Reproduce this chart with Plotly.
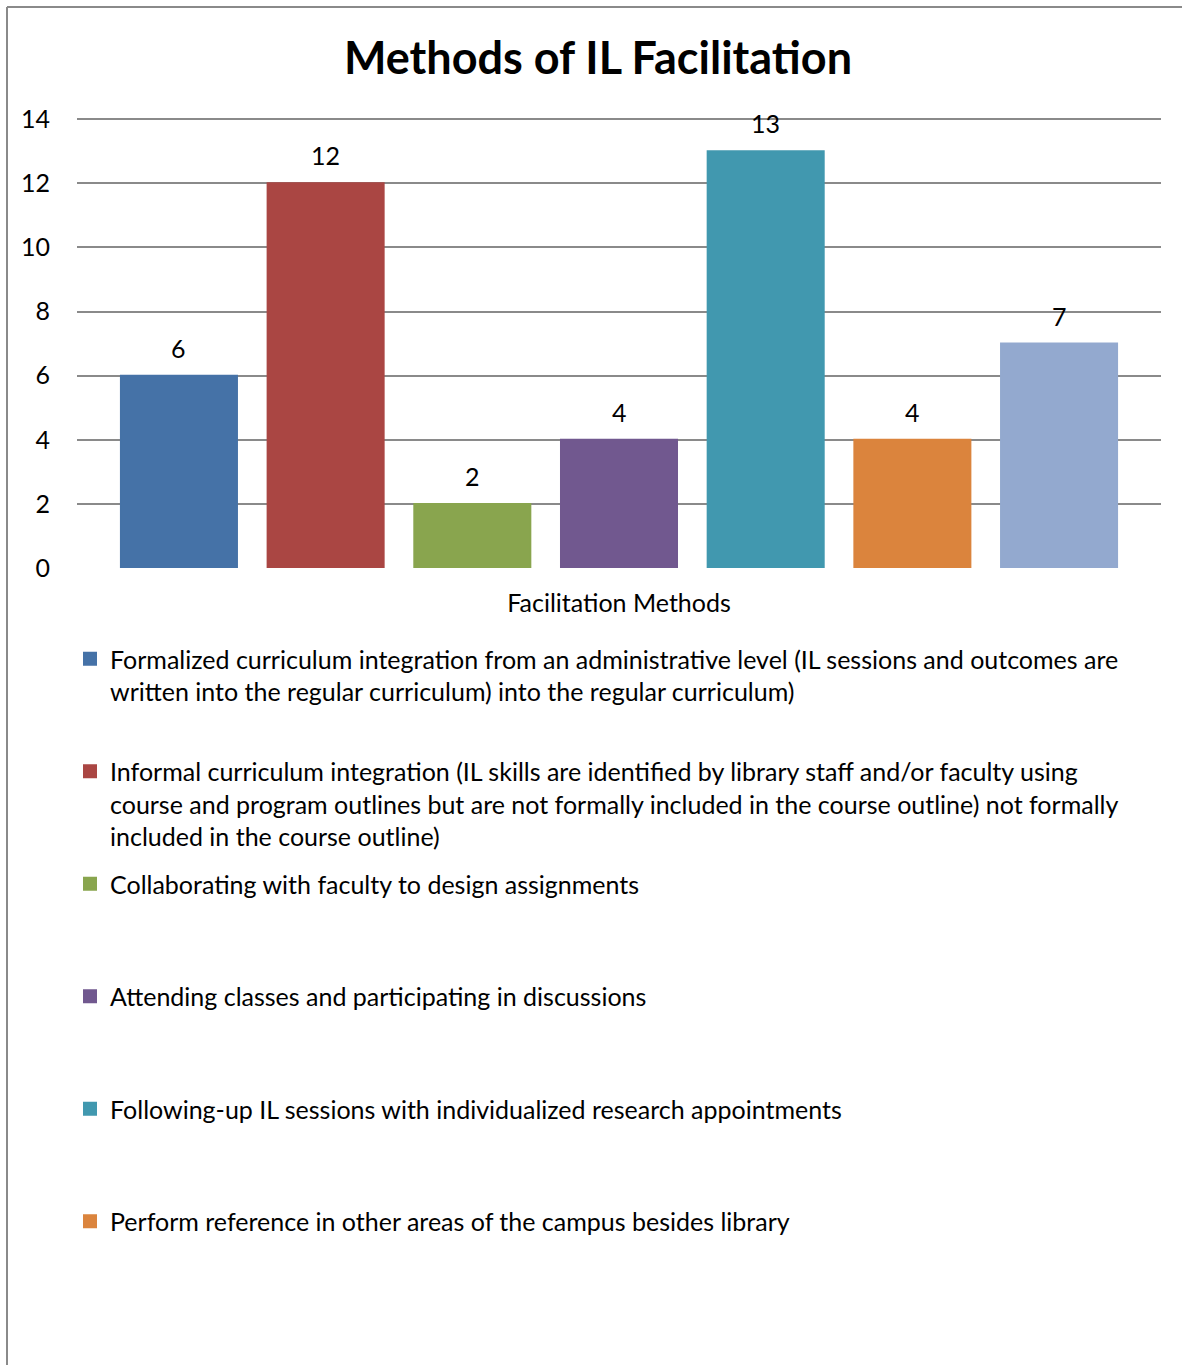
import plotly.graph_objects as go

title = "Methods of IL Facilitation"
category_label = "Facilitation Methods"
series_names = [
    "Formalized curriculum integration from an administrative level (IL sessions and outcomes are<br>written into the regular curriculum) into the regular curriculum)",
    "Informal curriculum integration (IL skills are identified by library staff and/or faculty using<br>course and program outlines but are not formally included in the course outline) not formally<br>included in the course outline)",
    "Collaborating with faculty to design assignments",
    "Attending classes and participating in discussions",
    "Following-up IL sessions with individualized research appointments",
    "Perform reference in other areas of the campus besides library",
    "Other",
]
values = [6, 12, 2, 4, 13, 4, 7]
colors = ["#4572A7", "#AA4643", "#89A54E", "#71588F", "#4198AF", "#DB843D", "#93A9CF"]
show_in_legend = [True, True, True, True, True, True, False]
y_ticks = [0, 2, 4, 6, 8, 10, 12, 14]

FONT = "Lato, Carlito, Calibri, sans-serif"
FS = 25
LINES = 3

fig = go.Figure()
for i, (name, v, c, sl) in enumerate(zip(series_names, values, colors, show_in_legend)):
    n_lines = name.count("<br>") + 1
    padded = name + "<br> " * (LINES - n_lines)
    fig.add_trace(go.Bar(
        x=[i], y=[v], name=padded, marker_color=c,
        marker_line=dict(color=c, width=2),
        showlegend=sl, legendgroup=f"g{i}",
    ))
    fig.add_annotation(x=i, y=v, text=str(v), showarrow=False,
                       yanchor="bottom", yshift=11,
                       font=dict(family=FONT, size=FS, color="#000"))

W, H = 1182, 1365
L, R, T, B = 77, 21, 116, 797
pw, ph = W - L - R, H - T - B

def px(x):
    return (x - L) / pw

def py(y):
    return (H - B - y) / ph

fig.update_layout(
    width=W, height=H,
    margin=dict(l=L, r=R, t=T, b=B, autoexpand=False),
    paper_bgcolor="white", plot_bgcolor="white",
    barmode="overlay", bargap=0.209,
    font=dict(family=FONT, size=FS, color="#000"),
    title=dict(text="<b>" + title + "</b>", x=598 / W, xanchor="center",
               y=1 - 58 / H, yanchor="middle", yref="container", xref="container",
               font=dict(family=FONT, size=45, color="#000")),
    xaxis=dict(range=[-0.695, len(values) - 1 + 0.695], tickvals=[(len(values) - 1) / 2],
               ticktext=[category_label], showgrid=False, zeroline=False, showline=False,
               ticks="outside", ticklen=13, tickcolor="rgba(0,0,0,0)",
               tickfont=dict(family=FONT, size=FS, color="#000"), fixedrange=True),
    yaxis=dict(range=[0, 14.1], tickvals=y_ticks, showgrid=True, gridcolor="#8a8a8a",
               gridwidth=1.5, zeroline=False, showline=False,
               ticks="outside", ticklen=21, tickcolor="rgba(0,0,0,0)",
               tickfont=dict(family=FONT, size=FS, color="#000"), fixedrange=True),
    legend=dict(x=70 / W, xanchor="left", xref="container",
                y=1 - 636 / H, yanchor="top", yref="container",
                valign="top", tracegroupgap=12, itemclick=False,
                font=dict(family=FONT, size=FS, color="#000"),
                bgcolor="rgba(0,0,0,0)"),
    shapes=[
        dict(type="line", xref="paper", yref="paper", x0=px(7), x1=px(7),
             y0=py(7), y1=py(H + 10), line=dict(color="#8a8a8a", width=2)),
        dict(type="line", xref="paper", yref="paper", x0=px(7), x1=px(W + 10),
             y0=py(7), y1=py(7), line=dict(color="#8a8a8a", width=2)),
    ],
)

fig.write_html("out.html")
